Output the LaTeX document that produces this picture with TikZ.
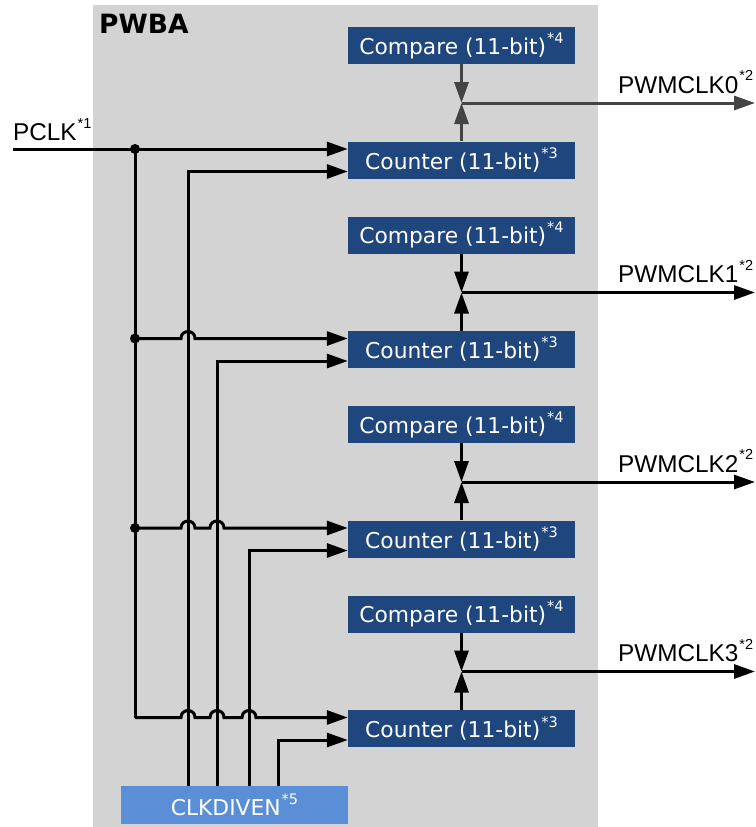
\documentclass[tikz,border=0pt]{standalone}
\usepackage{fontspec}
\setmainfont{Liberation Sans}
\newfontfamily\boxfont{DejaVu Sans}
\usetikzlibrary{arrows.meta,calc}
\definecolor{pwbagray}{HTML}{D3D3D3}
\definecolor{boxblue}{HTML}{1F477E}
\definecolor{lightblue}{HTML}{5A8ED6}
\definecolor{darkline}{HTML}{444444}
\tikzset{
  blk/.style={fill=boxblue,text=white,minimum width=227pt,minimum height=37pt,inner sep=0pt,font=\boxfont\fontsize{21.8}{24}\selectfont},
  enbox/.style={fill=lightblue,text=white,minimum width=227pt,minimum height=38pt,inner sep=0pt,font=\boxfont\fontsize{21.8}{24}\selectfont},
  wire/.style={line width=3pt,line join=miter},
  arr/.style={wire,-{Triangle[length=21pt,width=14pt]}},
  lbl/.style={font=\fontsize{24.3}{26}\selectfont,inner sep=0pt},
  jdot/.style={circle,fill=black,inner sep=0pt,minimum size=10pt},
}
\newcommand{\nsup}[1]{\kern1pt\raisebox{0.5em}{\fontsize{14.5}{16}\selectfont *#1}}
\begin{document}
\begin{tikzpicture}[x=1pt,y=-1pt]
\useasboundingbox (0,0) rectangle (755,827);
\fill[pwbagray] (93,5) rectangle (598,827);
\node[anchor=base west,inner sep=0pt,font=\boxfont\bfseries\fontsize{26.5}{28}\selectfont] (pwba) at (99,33) {PWBA};

% columns of enable lines
\coordinate (x0) at (188,0);
\coordinate (x1) at (217,0);
\coordinate (x2) at (249,0);
\coordinate (x3) at (278,0);

\node[enbox] (clk) at (234.5,805) {CLKDIVEN\nsup{5}};

\foreach \i in {0,1,2,3}{
  \pgfmathsetmacro{\dy}{189.5*\i}
  \node[blk] (cmp\i) at (461.5,45.5+\dy) {Compare (11-bit)\nsup{4}};
  \node[blk] (cnt\i) at (461.5,160+\dy) {Counter (11-bit)\nsup{3}};
  \coordinate (j\i) at (461.5,103+\dy);
  \coordinate (out\i) at (755,103+\dy);
  \coordinate (ia\i) at ($(cnt\i.west)+(0,-11)$);
  \coordinate (ib\i) at ($(cnt\i.west)+(0,11.5)$);
  \coordinate (b\i) at (135,149+\dy);
  \node[lbl,anchor=base west] (pw\i) at (618,93+\dy) {PWMCLK\i\nsup{2}};
}

% compare/counter to junction and outputs
\draw[arr,darkline] (cmp0.south) -- (j0);
\draw[arr,darkline] (cnt0.north) -- (j0);
\draw[arr,darkline] (j0) -- (out0);
\foreach \i in {1,2,3}{
  \draw[arr] (cmp\i.south) -- (j\i);
  \draw[arr] (cnt\i.north) -- (j\i);
  \draw[arr] (j\i) -- (out\i);
}

% PCLK
\coordinate (pin) at (13,149);
\node[lbl,anchor=base west] (pclk) at (13,140.5) {PCLK\nsup{1}};
\draw[arr] (pin) -- (ia0);
\draw[wire] (b0) -- (b3);
\draw[arr] (b3) -- ($(b3)+(46,0)$) .. controls +(0,-9.3) and +(0,-9.3) .. ($(b3)+(60,0)$)
  -- ($(b3)+(75,0)$) .. controls +(0,-9.3) and +(0,-9.3) .. ($(b3)+(89,0)$)
  -- ($(b3)+(107,0)$) .. controls +(0,-9.3) and +(0,-9.3) .. ($(b3)+(121,0)$) -- (ia3);
\draw[arr] (b1) -- ($(b1)+(46,0)$) .. controls +(0,-9.3) and +(0,-9.3) .. ($(b1)+(60,0)$) -- (ia1);
\draw[arr] (b2) -- ($(b2)+(46,0)$) .. controls +(0,-9.3) and +(0,-9.3) .. ($(b2)+(60,0)$)
  -- ($(b2)+(75,0)$) .. controls +(0,-9.3) and +(0,-9.3) .. ($(b2)+(89,0)$) -- (ia2);
\node[jdot] at (b0) {};
\node[jdot] at (b1) {};
\node[jdot] at (b2) {};

% enable lines
\foreach \i in {0,1,2,3}{
  \draw[arr] (clk.north -| x\i) |- (ib\i);
}
\end{tikzpicture}
\end{document}
